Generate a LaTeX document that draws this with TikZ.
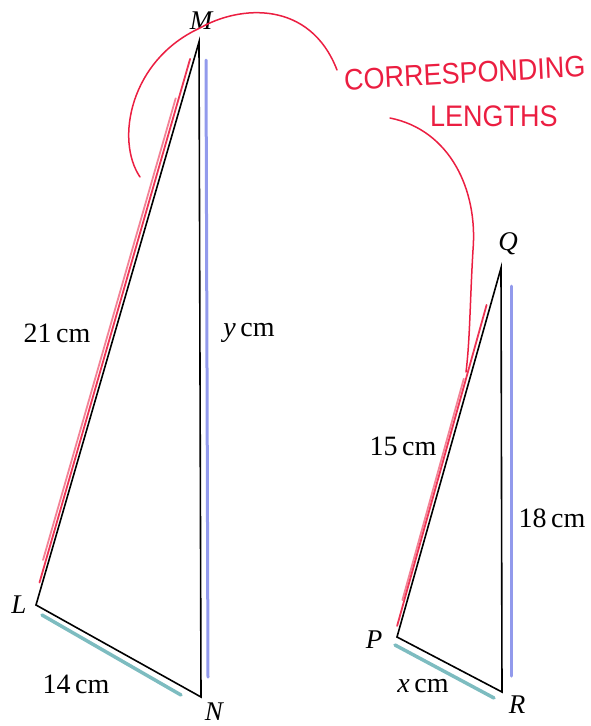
\documentclass[tikz,border=0pt]{standalone}
\usepackage{fontspec}
\setmainfont{Liberation Serif}
\newfontfamily\handfont{Liberation Sans}
\usetikzlibrary{calc}
\definecolor{hlred}{RGB}{235,30,65}
\definecolor{hlblue}{RGB}{110,120,230}
\definecolor{hlteal}{RGB}{70,160,165}
\tikzset{
  side/.style={line width=1.6pt, black, line join=miter},
  redhl/.style={hlred, line width=1.8pt, opacity=0.9, line cap=round},
  bluehl/.style={hlblue, line width=3pt, opacity=0.75, line cap=round},
  tealhl/.style={hlteal, line width=3.5pt, opacity=0.7, line cap=round},
  lab/.style={font=\fontsize{28}{30}\selectfont, inner sep=0pt},
  vlab/.style={font=\fontsize{27}{30}\selectfont\itshape, inner sep=0pt},
  pen/.style={hlred, line width=1.5pt, line cap=round},
  hand/.style={hlred, font=\handfont\fontsize{27}{30}\selectfont, inner sep=0pt, yscale=1.1}
}
\begin{document}
\begin{tikzpicture}[x=1pt,y=-1pt]
\useasboundingbox (0,0) rectangle (590,726);
\clip (0,0) rectangle (590,726);
% vertices
\coordinate (M) at (199,42);
\coordinate (N) at (201,697);
\coordinate (L) at (36,605);
\coordinate (Q) at (501,268);
\coordinate (R) at (502,692);
\coordinate (P) at (397,637);
% highlights
\draw[redhl] ($(L)!0.04!(M)+(-3,0)$) -- ($(M)!0.03!(L)+(-4,0)$);
\draw[redhl, opacity=0.55] ($(L)!0.08!(M)+(-6,0)$) -- ($(M)!0.10!(L)+(-7,0)$);
\draw[bluehl] ($(M)+(7,18)$) -- ($(N)+(7,-20)$);
\draw[tealhl] ($(L)+(6,10)$) -- ($(N)+(-20,-2)$);
\draw[redhl] ($(P)!0.03!(Q)+(-3,0)$) -- ($(Q)!0.10!(P)+(-4,0)$);
\draw[redhl, opacity=0.55] ($(P)!0.1!(Q)+(-5,0)$) -- ($(Q)!0.3!(P)+(-6,0)$);
\draw[bluehl] ($(Q)+(10,18)$) -- ($(R)+(9,-16)$);
\draw[tealhl] ($(P)+(-2,8)$) -- ($(R)+(-8,6)$);
% triangles
\draw[side] (L) -- (M) -- (N) -- cycle;
\draw[side] (P) -- (Q) -- (R) -- cycle;
% vertex labels
\node[vlab] (lM) at (201,21) {M};
\node[vlab] (lL) at (19,605) {L};
\node[vlab] (lN) at (214,712) {N};
\node[vlab] (lQ) at (508,244) {Q};
\node[vlab] (lR) at (517,705) {R};
\node[vlab] (lP) at (374,640) {P};
% side labels
\node[lab] (s21) at (57,333) {21\,cm};
\node[lab] (sy) at (249,333) {\textit{y}\,cm};
\node[lab] (s15) at (403,446) {15\,cm};
\node[lab] (s18) at (552,518) {18\,cm};
\node[lab] (s14) at (76,684) {14\,cm};
\node[lab] (sx) at (423,686) {\textit{x}\,cm};
% red annotation
\node[hand, anchor=west, rotate=3] (c1) at (344,80) {CORRESPONDING};
\node[hand, anchor=west] (c2) at (430,116) {LENGTHS};
\draw[pen] (140,177) .. controls (115,140) and (130,60) .. (200,28)
  .. controls (240,5) and (310,0) .. (337,70);
\draw[pen] (390,118) .. controls (450,130) and (478,190) .. (473,250)
  .. controls (470,300) and (470,340) .. (466,372);
\end{tikzpicture}
\end{document}
